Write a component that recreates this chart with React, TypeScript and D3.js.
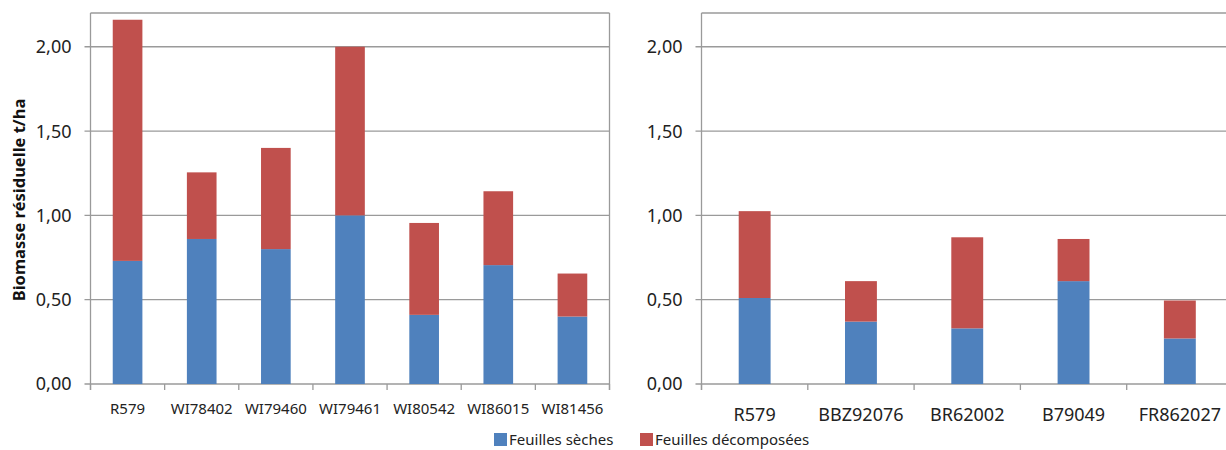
import React from "react";
import * as d3 from "d3";

const leftCategories = ["R579", "WI78402", "WI79460", "WI79461", "WI80542", "WI86015", "WI81456"];
const leftDry = [0.73, 0.86, 0.8, 1.0, 0.41, 0.705, 0.4];
const leftDecomposed = [1.43, 0.395, 0.6, 1.0, 0.545, 0.438, 0.255];

const rightCategories = ["R579", "BBZ92076", "BR62002", "B79049", "FR862027"];
const rightDry = [0.51, 0.37, 0.33, 0.61, 0.27];
const rightDecomposed = [0.515, 0.24, 0.54, 0.25, 0.225];

const yTicks = [0, 0.5, 1.0, 1.5, 2.0];
const seriesNames = ["Feuilles sèches", "Feuilles décomposées"];
const colors = ["#4F81BD", "#C0504D"];
const yTitle = "Biomasse résiduelle t/ha";

const fmt = (v: number) => v.toFixed(2).replace(".", ",");
const FONT = "'Noto Sans', 'DejaVu Sans', sans-serif";

type PanelProps = {
  cats: string[];
  dry: number[];
  dec: number[];
  x0: number;
  x1: number;
  barFrac: number;
  xFont: number;
  xLabelY: number;
  boxRight: boolean;
};

function Panel({ cats, dry, dec, x0, x1, barFrac, xFont, xLabelY, boxRight }: PanelProps) {
  const top = 13;
  const bottom = 384;
  const y = d3.scaleLinear().domain([0, 2.2]).range([bottom, top]);
  const x = d3.scaleBand<string>().domain(cats).range([x0, x1]).paddingInner(0).paddingOuter(0);
  const rows = cats.map((c, i) => ({ cat: c, dry: dry[i], dec: dec[i] }));
  const stack = d3.stack<any>().keys(["dry", "dec"])(rows);
  const bw = x.bandwidth() * barFrac;
  const grid = "#9a9a9a";
  const boundaries = cats.map((c) => x(c)!).concat([x1]);
  return (
    <g>
      {yTicks.map((t) => (
        <g key={t}>
          <line x1={x0 - 6} x2={x1} y1={y(t)} y2={y(t)} stroke={grid} strokeWidth={1.3} />
          <text x={x0 - 19} y={y(t)} dy="0.36em" textAnchor="end" fontSize={18} fill="#222" fontFamily={FONT}>
            {fmt(t)}
          </text>
        </g>
      ))}
      <line x1={x0} x2={x1} y1={top} y2={top} stroke={grid} strokeWidth={1.3} />
      <line x1={x0} x2={x0} y1={top} y2={bottom + 6} stroke={grid} strokeWidth={1.3} />
      {boxRight && <line x1={x1} x2={x1} y1={top} y2={bottom + 6} stroke={grid} strokeWidth={1.3} />}
      {boundaries.map((b, i) => (
        <line key={i} x1={b} x2={b} y1={bottom} y2={bottom + 6} stroke={grid} strokeWidth={1.3} />
      ))}
      {stack.map((s, si) => (
        <g key={si} fill={colors[si]}>
          {s.map((d, i) => (
            <rect
              key={i}
              x={x(cats[i])! + (x.bandwidth() - bw) / 2}
              y={y(d[1])}
              width={bw}
              height={y(d[0]) - y(d[1])}
            />
          ))}
        </g>
      ))}
      {cats.map((c) => (
        <text
          key={c}
          x={x(c)! + x.bandwidth() / 2}
          y={xLabelY}
          textAnchor="middle"
          fontSize={xFont}
          fill="#222"
          fontFamily={FONT}
        >
          {c}
        </text>
      ))}
    </g>
  );
}

export default function App() {
  return (
    <svg
      width={1226}
      height={450}
      style={{ position: "absolute", left: 0, top: 0, background: "#fff", display: "block" }}
    >
      <rect x={0} y={0} width={1226} height={450} fill="#fff" />
      <Panel cats={leftCategories} dry={leftDry} dec={leftDecomposed} x0={90.5} x1={609.5} barFrac={0.4} xFont={15} xLabelY={414} boxRight={true} />
      <Panel cats={rightCategories} dry={rightDry} dec={rightDecomposed} x0={701.5} x1={1233} barFrac={0.3} xFont={18} xLabelY={421} boxRight={false} />
      <text
        transform="translate(25,200) rotate(-90)"
        textAnchor="middle"
        fontSize={16.5}
        fontWeight="bold"
        fill="#111"
        fontFamily={FONT}
      >
        {yTitle}
      </text>
      <g fontFamily={FONT} fontSize={15} fill="#222">
        <rect x={494} y={433} width={13} height={13} fill={colors[0]} />
        <text x={509} y={445}>{seriesNames[0]}</text>
        <rect x={640} y={433} width={13} height={13} fill={colors[1]} />
        <text x={655} y={445}>{seriesNames[1]}</text>
      </g>
    </svg>
  );
}
